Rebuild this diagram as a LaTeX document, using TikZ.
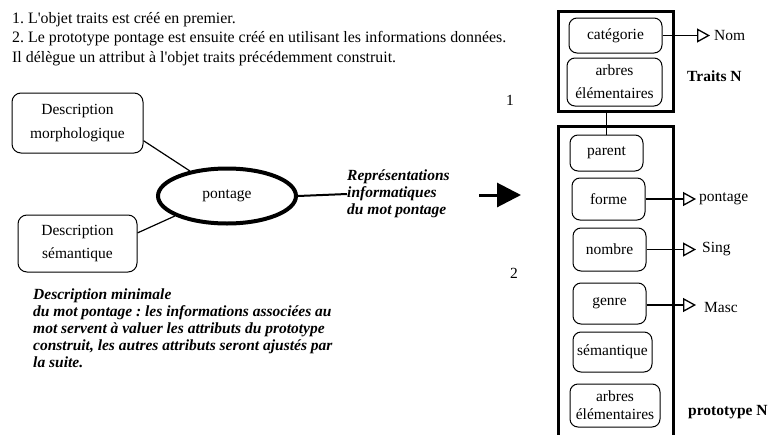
\documentclass[tikz,border=0pt]{standalone}
\usepackage{fontspec}
\setmainfont{Liberation Serif}
\usetikzlibrary{arrows.meta,shapes.geometric}
\frenchspacing
\begin{document}
\begin{tikzpicture}[x=1pt,y=-1pt,
  txt/.style={inner sep=0pt, font=\fontsize{15.5}{18.5}\selectfont},
  note/.style={inner sep=0pt, align=left, font=\fontsize{15.5}{17}\selectfont\bfseries\itshape},
  descbox/.style={draw, rounded corners=9pt, line width=1pt, align=center, inner sep=0pt,
    font=\fontsize{15.5}{23.5}\selectfont},
  attr/.style={draw, rounded corners=8pt, line width=1pt, align=center, inner sep=0pt,
    minimum width=73pt, font=\fontsize{15.5}{20}\selectfont},
  frame/.style={draw, line width=3pt, inner sep=0pt},
  link/.style={line width=1.2pt},
  valarrow/.style={line width=1.5pt, -{Triangle[open, length=13pt, width=14pt, line width=1.3pt]}},
  bigarrow/.style={line width=3pt, -{Triangle[length=24pt, width=24pt]}},
]
\useasboundingbox (0,0) rectangle (771,434);

% explanatory text at the top
\node[txt, align=left, anchor=north west, font=\fontsize{15.9}{19.5}\selectfont] (intro) at (12,12)
  {1. L\textquotesingle objet traits est créé en premier.\\
   2. Le prototype pontage est ensuite créé en utilisant les informations données.\\
   Il délègue un attribut à l\textquotesingle objet traits précédemment construit.};

% the two descriptions and the word
\node[descbox, minimum width=131pt, minimum height=60pt] (morph) at (77.5,123)
  {Description\\morphologique};
\node[descbox, minimum width=119pt, minimum height=57pt] (sem) at (77.5,243.5)
  {Description\\sémantique};
\node[draw, ellipse, line width=4pt, minimum width=138pt, minimum height=55pt, inner sep=0pt,
  font=\fontsize{15.5}{18}\selectfont] (pont) at (227,196) {pontage};
\draw[link] (morph.-15) -- (pont.146);
\draw[link] (sem.10) -- (pont.201);

\node[note, anchor=west] (repr) at (347,194)
  {Représentations\\informatiques\\du mot pontage};
\draw[line width=2pt] (pont.east) -- (repr.west);

\node[note, anchor=north west] (mini) at (33,289)
  {Description minimale\\
   du mot pontage : les informations associées au\\
   mot servent à valuer les attributs du prototype\\
   construit, les autres attributs seront ajustés par\\
   la suite.};

% big arrow towards the objects
\coordinate (bigtail) at (479,195);
\coordinate (bigtip) at (521,195);
\draw[bigarrow] (bigtail) -- (bigtip);

\node[txt] (one) at (510,100) {1};
\node[txt] (two) at (514,273) {2};

% the traits object
\node[frame, minimum width=115pt, minimum height=100pt] (traits) at (616,61) {};
\node[attr, minimum width=93pt, minimum height=35pt] (cat) at (615.5,35.5) {catégorie};
\node[attr, minimum width=95pt, minimum height=48pt, font=\fontsize{15.5}{23}\selectfont]
  (arb1) at (614.5,82) {arbres\\élémentaires};
\coordinate (nomtip) at (710,35.5);
\draw[valarrow] (cat.east) -- (nomtip);
\node[txt, anchor=west] (nom) at (714,35.5) {Nom};
\node[txt, anchor=west, font=\fontsize{15.5}{18}\selectfont\bfseries] (traitsN) at (687,76) {Traits N};

% the prototype object
\draw[line width=3pt] (558.5,440) -- (558.5,126.5) -- (673.5,126.5) -- (673.5,440);
\node[attr, minimum height=36pt] (parent) at (606.5,153) {parent};
\node[attr, minimum height=42pt] (forme) at (608.5,199) {forme};
\node[attr, minimum height=43pt] (nombre) at (609.5,249.5) {nombre};
\node[attr, minimum height=41pt] (genre) at (609.5,303.5) {genre};
\node[attr, minimum width=79pt, minimum height=40pt] (seman) at (612.5,352) {sémantique};
\node[attr, minimum width=90pt, minimum height=43pt, font=\fontsize{15.5}{18}\selectfont]
  (arb2) at (615,405.5) {arbres\\élémentaires};
\node[txt, anchor=west, font=\fontsize{15.5}{18}\selectfont\bfseries] (protoN) at (688,412) {prototype N};

\draw[link] (parent.north) -- (parent.north |- traits.south);

\coordinate (formetip) at (696,199);
\coordinate (nombretip) at (696,249.5);
\coordinate (genretip) at (696,305);
\draw[valarrow] (forme.east) -- (formetip);
\draw[valarrow] (nombre.east) -- (nombretip);
\draw[valarrow] (genre.east |- genretip) -- (genretip);
\node[txt, anchor=west] (vpont) at (699,199) {pontage};
\node[txt, anchor=west] (vsing) at (702,249) {Sing};
\node[txt, anchor=west] (vmasc) at (704,307) {Masc};
\end{tikzpicture}
\end{document}
